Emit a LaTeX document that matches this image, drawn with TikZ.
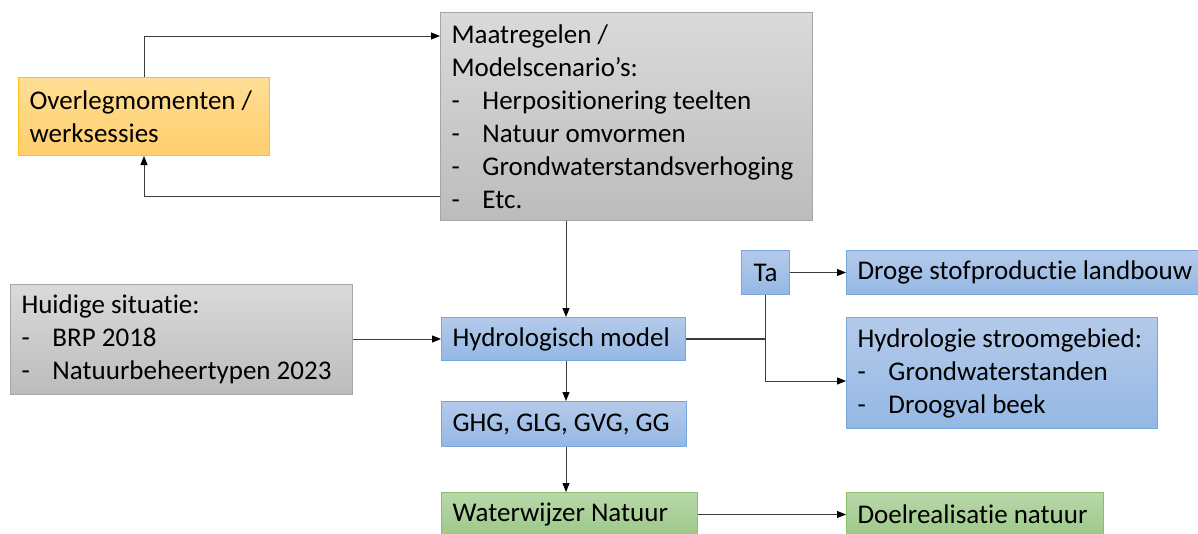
\documentclass[tikz,border=0pt]{standalone}
\usepackage{fontspec}
\setmainfont[Ligatures=NoCommon]{Carlito}
\usetikzlibrary{arrows.meta}
\definecolor{grijsrand}{RGB}{166,166,166}
\definecolor{grijsboven}{RGB}{218,218,218}
\definecolor{grijsonder}{RGB}{188,188,188}
\definecolor{blauwrand}{RGB}{120,165,220}
\definecolor{blauwboven}{RGB}{180,202,234}
\definecolor{blauwonder}{RGB}{148,184,228}
\definecolor{groenrand}{RGB}{135,192,105}
\definecolor{groenboven}{RGB}{184,216,170}
\definecolor{groenonder}{RGB}{157,200,136}
\definecolor{oranjerand}{RGB}{255,194,20}
\definecolor{oranjeboven}{RGB}{255,222,150}
\definecolor{oranjeonder}{RGB}{255,206,108}
\definecolor{lijn}{RGB}{60,60,60}
\tikzset{
  blok/.style={draw, line width=1pt, anchor=north west, inner xsep=11pt, inner ysep=0pt, align=left,
    font=\fontsize{27}{33}\selectfont, execute at begin node={\spaceskip=0pt\xspaceskip=0pt}},
  grijs/.style={blok, draw=grijsrand, top color=grijsboven, bottom color=grijsonder},
  blauw/.style={blok, draw=blauwrand, top color=blauwboven, bottom color=blauwonder},
  groen/.style={blok, draw=groenrand, top color=groenboven, bottom color=groenonder},
  oranje/.style={blok, draw=oranjerand, top color=oranjeboven, bottom color=oranjeonder},
  pijl/.style={draw=lijn, line width=1pt, -{Triangle[length=9pt,width=7pt,color=black]}}
}
\newcommand{\streep}[1]{\makebox[31pt][l]{-}#1}
\begin{document}
\begin{tikzpicture}[x=1pt,y=-1pt]
\useasboundingbox (0,0) rectangle (1198,533);
\clip (0,0) rectangle (1198,533);
% blokken
\node[oranje, text width=229pt, minimum height=78pt] (overleg) at (18,77) {Overlegmomenten /\\werksessies};
\node[grijs, text width=350pt, minimum height=208pt] (maatr) at (440,12) {Maatregelen /\\Modelscenario's:\\\streep{Herpositionering teelten}\\\streep{Natuur omvormen}\\\streep{Grondwaterstandsverhoging}\\\streep{Etc.}};
\node[grijs, text width=320pt, minimum height=110pt] (huidig) at (10,284) {Huidige situatie:\\\streep{BRP 2018}\\\streep{Natuurbeheertypen 2023}};
\node[blauw, text width=222pt, minimum height=43pt] (hydro) at (441,317) {Hydrologisch model};
\node[blauw, text width=223pt, minimum height=45pt] (ghg) at (441,401) {GHG, GLG, GVG, GG};
\node[groen, text width=234pt, minimum height=44pt] (water) at (441,492) {Waterwijzer Natuur};
\node[groen, text width=235pt, minimum height=44pt] (doel) at (846,492) {Doelrealisatie natuur};
\node[blauw, text width=26pt, minimum height=44pt, align=center] (ta) at (741,250) {Ta};
\node[blauw, text width=340pt, minimum height=44pt] (droge) at (846,250) {Droge stofproductie landbouw};
\node[blauw, text width=289pt, minimum height=111pt] (hydrol) at (846,317) {Hydrologie stroomgebied:\\\streep{Grondwaterstanden}\\\streep{Droogval beek}};
% verbindingen
\coordinate (as) at (566,0);
\draw[pijl] (overleg.north) |- (maatr.west |- 0,36);
\draw[pijl] (maatr.west |- 0,196) -| (overleg.south);
\draw[pijl] (as |- maatr.south) -- (as |- hydro.north);
\draw[pijl] (huidig.east |- hydro.west) -- (hydro.west);
\draw[pijl] (as |- hydro.south) -- (as |- ghg.north);
\draw[pijl] (as |- ghg.south) -- (as |- water.north);
\draw[draw=lijn, line width=1.8pt] (hydro.east) -- (hydro.east -| ta.south);
\draw[pijl] (ta.south) |- (hydrol.west |- 0,381);
\draw[pijl] (ta.east) -- (ta.east -| droge.west);
\draw[pijl] (water.east) -- (doel.west);
\end{tikzpicture}
\end{document}
